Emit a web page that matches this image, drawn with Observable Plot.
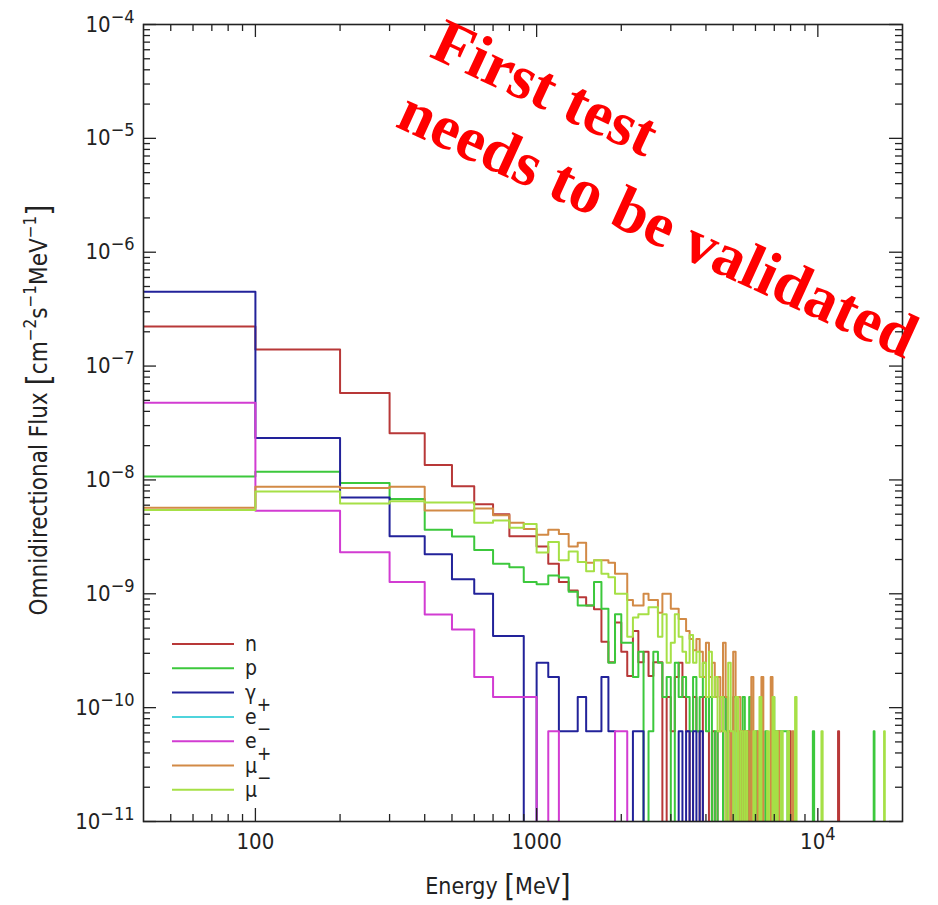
<!DOCTYPE html>
<html><head><meta charset="utf-8">
<script src="https://cdn.jsdelivr.net/npm/d3@7"></script>
<script src="https://cdn.jsdelivr.net/npm/@observablehq/plot@0.6"></script>
<style>
body{margin:0;background:#fff;}
#wrap{position:relative;width:938px;height:905px;overflow:hidden;}
#wrap svg{display:block;}
#overlay{position:absolute;left:0;top:0;pointer-events:none;}
.lbl{font-family:"DejaVu Sans Condensed","Liberation Sans Narrow","Liberation Sans",sans-serif;fill:#222;}
</style></head><body><div id="wrap"></div>
<script>
// ---------- data ----------
const xDomain = [40, 20000];
const yDomain = [1e-11, 1e-4];
const species = ["n", "p", "γ", "e+", "e-", "μ+", "μ-"];
const speciesColors = ["#b83838", "#3cc83c", "#22229a", "#4fd4dc", "#d23cd2", "#d28a46", "#a6e046"];

// bin lower edges (MeV) and flux (cm^-2 s^-1 MeV^-1); unlisted bins are empty
const nE = [40,100,200,300,400,500,600,700,800,900,1000,1100,1200,1300,1400,1500,1600,1700,1800,1900,2000,2100,2200,2300,2400,2500,2600,2700,2900,3000,3100,3200,3300,3400,3600,3700,3900,4000,4200,4400,4500,4600,4800,5300,5600,7900,11800];
const nF = [2.23e-7,1.4e-7,5.8e-8,2.57e-8,1.35e-8,8.8e-9,6.1e-9,5.0e-9,3.2e-9,3.2e-9,2.6e-9,1.84e-9,1.27e-9,1.07e-9,9.3e-10,7.9e-10,7.3e-10,3.8e-10,2.5e-10,5.6e-10,3.1e-10,1.9e-10,4.7e-10,2.5e-10,3.1e-10,1.9e-10,2.5e-10,2.5e-10,1.24e-10,6.2e-11,1.86e-10,2.48e-10,1.24e-10,6.2e-11,1.24e-10,6.2e-11,1.24e-10,1.24e-10,6.2e-11,6.2e-11,1.24e-10,1.24e-10,6.2e-11,6.2e-11,6.2e-11,6.2e-11,6.2e-11];

const pE = [40,100,200,300,400,500,600,700,800,900,1000,1100,1200,1300,1400,1500,1600,1700,1800,1900,2000,2100,2200,2300,2500,2600,2700,2800,2900,3100,3200,3300,3400,3500,3600,3700,3800,3900,4000,4100,4300,4600,4700,5000,5400,5700,6000,6500,6900,7000,7100,7200,7300,7400,7500,7600,7700,9600,15800];
const pF = [1.07e-8,1.18e-8,9.4e-9,6.8e-9,3.65e-9,3.18e-9,2.43e-9,1.84e-9,1.71e-9,1.27e-9,1.21e-9,1.45e-9,1.39e-9,1.04e-9,7.9e-10,7.9e-10,1.27e-9,7.4e-10,2.48e-10,6.6e-10,3.72e-10,3.72e-10,1.86e-10,3.1e-10,6.2e-11,3.1e-10,2.48e-10,1.24e-10,1.86e-10,2.48e-10,1.24e-10,1.86e-10,1.24e-10,6.2e-11,1.86e-10,6.2e-11,1.24e-10,2.48e-10,6.2e-11,1.24e-10,6.2e-11,1.24e-10,6.2e-11,1.24e-10,1.24e-10,1.24e-10,6.2e-11,6.2e-11,1.24e-10,6.2e-11,6.2e-11,6.2e-11,6.2e-11,6.2e-11,6.2e-11,6.2e-11,6.2e-11,6.2e-11,6.2e-11];

const gE = [40,100,200,300,400,500,600,700,800,1000,1100,1200,1300,1400,1500,1600,1700,1800,2200,2300,3200,3400,3600,3800];
const gF = [4.5e-7,2.34e-8,7.0e-9,3.2e-9,2.22e-9,1.34e-9,1.0e-9,4.25e-10,4.25e-10,2.48e-10,1.86e-10,6.2e-11,6.2e-11,1.24e-10,6.2e-11,6.2e-11,1.86e-10,6.2e-11,6.2e-11,6.2e-11,6.2e-11,6.2e-11,6.2e-11,6.2e-11];

const epE = [];
const epF = [];

const emE = [40,100,200,300,400,500,600,700,800,900,1100,1900,2000];
const emF = [4.77e-8,5.37e-9,2.32e-9,1.27e-9,6.58e-10,4.86e-10,1.86e-10,1.24e-10,1.24e-10,1.24e-10,6.2e-11,6.2e-11,6.2e-11];

const mpE = [40,100,200,300,400,500,600,700,800,900,1000,1100,1200,1300,1400,1500,1600,1700,1800,1900,2000,2100,2200,2300,2400,2500,2600,2700,2800,2900,3000,3100,3200,3300,3400,3500,3600,3700,3800,3900,4000,4100,4200,4300,4400,4500,4600,4700,4800,5000,5100,5200,5400,5600,5800,6100,6300,6800,7200,8100];
const mpF = [5.7e-9,8.7e-9,8.5e-9,8.7e-9,5.4e-9,5.4e-9,5.6e-9,4.9e-9,4.2e-9,3.7e-9,3.3e-9,3.65e-9,3.35e-9,2.6e-9,2.8e-9,1.87e-9,1.97e-9,1.97e-9,1.87e-9,1.5e-9,1.5e-9,8.8e-10,7.9e-10,7.9e-10,1.0e-9,8.8e-10,8.8e-10,6.8e-10,1.0e-9,1.0e-9,7.4e-10,7.4e-10,6.0e-10,6.0e-10,4.7e-10,4.0e-10,3.2e-10,4.0e-10,3.1e-10,1.86e-10,3.72e-10,1.86e-10,2.48e-10,1.24e-10,1.86e-10,6.2e-11,3.72e-10,1.24e-10,6.2e-11,3.1e-10,6.2e-11,1.24e-10,6.2e-11,6.2e-11,1.86e-10,6.2e-11,1.86e-10,1.86e-10,6.2e-11,6.2e-11];

const mmE = [40,100,200,300,400,500,600,700,800,900,1000,1100,1200,1300,1400,1500,1600,1700,1800,1900,2000,2100,2200,2300,2400,2500,2600,2700,2800,2900,3000,3100,3200,3300,3400,3500,3600,3700,3800,3900,4000,4100,4200,4300,4400,4500,4600,4800,4900,5100,5300,5500,5900,6200,6600,6900,7100,7400,7800,8300,10300,17200];
const mmF = [5.45e-9,7.9e-9,6.2e-9,6.5e-9,6.35e-9,6.35e-9,4.2e-9,4.4e-9,3.8e-9,4.1e-9,2.3e-9,2.85e-9,1.97e-9,2.35e-9,1.9e-9,1.58e-9,1.97e-9,1.5e-9,1.4e-9,1.0e-9,1.0e-9,4.2e-10,6.2e-10,6.6e-10,6.6e-10,7.6e-10,7.6e-10,4.2e-10,6.6e-10,2.48e-10,3.72e-10,6.6e-10,4.2e-10,3.1e-10,2.48e-10,4.34e-10,2.48e-10,3.1e-10,1.86e-10,2.48e-10,1.24e-10,3.1e-10,1.24e-10,1.86e-10,6.2e-11,1.24e-10,6.2e-11,2.48e-10,6.2e-11,1.24e-10,6.2e-11,6.2e-11,6.2e-11,1.24e-10,6.2e-11,1.24e-10,6.2e-11,6.2e-11,6.2e-11,1.24e-10,6.2e-11,6.2e-11];

const seriesE = [nE, pE, gE, epE, emE, mpE, mmE];
const seriesF = [nF, pF, gF, epF, emF, mpF, mmF];

const xMajorTicks = [100, 1000, 10000];
const xMinorTicks = [50,60,70,80,90,200,300,400,500,600,700,800,900,2000,3000,4000,5000,6000,7000,8000,9000];
const yMajorTicks = [1e-11,1e-10,1e-9,1e-8,1e-7,1e-6,1e-5,1e-4];
const yMinorMantissa = [2,3,4,5,6,7,8,9];

// ---------- build histogram step rows ----------
const binStarts = [40];
for (let e = 100; e < 20000; e += 100) binStarts.push(e);
function histRows(E, F) {
  const m = new Map(E.map((e, i) => [e, F[i]]));
  const rows = binStarts.map(s => ({x: s, y: m.has(s) ? m.get(s) : 0}));
  rows.push({x: xDomain[1], y: rows[rows.length - 1].y});
  rows.forEach(r => { if (!(r.y > 0)) r.y = 1e-13; });
  return rows;
}
const yMinorTicks = [];
yMajorTicks.slice(0, -1).forEach(p => yMinorMantissa.forEach(k => yMinorTicks.push(k * p)));

// ---------- layout ----------
const W = 938, H = 905, mt = 24, mb = 84, ml = 143, mr = 36;
const fw = W - ml - mr, fh = H - mt - mb;
const bigTick = 13, smallTick = 7;
const tickStyle = {stroke: "#222", strokeWidth: 1.3};

const lineMarks = seriesE.map((E, i) =>
  Plot.line(histRows(E, seriesF[i]), {x: "x", y: "y", curve: "step-after", stroke: speciesColors[i], strokeWidth: 2, clip: true}));

const chart = Plot.plot({
  width: W, height: H,
  marginTop: mt, marginBottom: mb, marginLeft: ml, marginRight: mr,
  x: {type: "log", domain: xDomain},
  y: {type: "log", domain: yDomain},
  style: {fontFamily: '"DejaVu Sans Condensed","Liberation Sans Narrow","Liberation Sans",sans-serif', fontSize: "22px", color: "#222", background: "#fff"},
  marks: [
    ...lineMarks,
    Plot.tickX(xMajorTicks, {x: d => d, insetTop: fh - bigTick, ...tickStyle}),
    Plot.tickX(xMinorTicks, {x: d => d, insetTop: fh - smallTick, ...tickStyle}),
    Plot.tickX(xMajorTicks, {x: d => d, insetBottom: fh - bigTick, ...tickStyle}),
    Plot.tickX(xMinorTicks, {x: d => d, insetBottom: fh - smallTick, ...tickStyle}),
    Plot.tickY(yMajorTicks, {y: d => d, insetRight: fw - bigTick, ...tickStyle}),
    Plot.tickY(yMinorTicks, {y: d => d, insetRight: fw - smallTick, ...tickStyle}),
    Plot.tickY(yMajorTicks, {y: d => d, insetLeft: fw - bigTick, ...tickStyle}),
    Plot.tickY(yMinorTicks, {y: d => d, insetLeft: fw - smallTick, ...tickStyle}),
    Plot.frame({stroke: "#222", strokeWidth: 1.6}),
    Plot.axisX({ticks: xMajorTicks, tickSize: 0, tickPadding: 12, label: null,
      tickFormat: d => d >= 10000 ? "10^" + Math.round(Math.log10(d)) : String(d)}),
    Plot.axisY({ticks: yMajorTicks, tickSize: 0, tickPadding: 9, label: null,
      tickFormat: d => "10^" + Math.round(Math.log10(d))})
  ]
});

// superscript tick labels
chart.querySelectorAll("text").forEach(t => {
  const m = /^10\^(-?\d+)$/.exec(t.textContent.trim());
  if (!m) return;
  t.textContent = "10";
  const s = document.createElementNS("http://www.w3.org/2000/svg", "tspan");
  s.setAttribute("dy", "-0.5em");
  s.setAttribute("font-size", "18px");
  s.textContent = m[1].replace("-", "\u2212");
  t.appendChild(s);
});

const wrap = document.getElementById("wrap");
wrap.appendChild(chart);

// ---------- overlay: axis titles, legend, stamp ----------
const ov = d3.select(wrap).append("svg").attr("id", "overlay").attr("width", W).attr("height", H);

const yt = ov.append("text").attr("class", "lbl").attr("font-size", 24)
  .attr("text-anchor", "middle").attr("transform", "translate(47,410) rotate(-90)");
yt.append("tspan").text("Omnidirectional Flux ");
yt.append("tspan").attr("font-size", 32).attr("dy", 2).text("[");
yt.append("tspan").attr("dy", -2).text("cm");
yt.append("tspan").attr("font-size", 17).attr("dy", -11).text("\u22122");
yt.append("tspan").attr("dy", 11).text("s");
yt.append("tspan").attr("font-size", 17).attr("dy", -11).text("\u22121");
yt.append("tspan").attr("dy", 11).text("MeV");
yt.append("tspan").attr("font-size", 17).attr("dy", -11).text("\u22121");
yt.append("tspan").attr("font-size", 32).attr("dy", 13).text("]");

const xt = ov.append("text").attr("class", "lbl").attr("font-size", 23)
  .attr("text-anchor", "middle").attr("x", 498).attr("y", 894);
xt.append("tspan").text("Energy ");
xt.append("tspan").attr("font-size", 31).attr("dy", 2).text("[");
xt.append("tspan").attr("dy", -2).text("MeV");
xt.append("tspan").attr("font-size", 31).attr("dy", 2).text("]");

const legendLabels = [["n",""],["p",""],["\u03b3",""],["e","+"],["e","\u2212"],["\u03bc","+"],["\u03bc","\u2212"]];
legendLabels.forEach(([base, sup], i) => {
  const y = 644 + i * 24.3;
  ov.append("line").attr("x1", 172).attr("x2", 234).attr("y1", y).attr("y2", y)
    .attr("stroke", speciesColors[i]).attr("stroke-width", 2);
  const t = ov.append("text").attr("class", "lbl").attr("font-size", 21).attr("x", 245).attr("y", y + 7);
  t.append("tspan").text(base);
  if (sup) t.append("tspan").attr("font-size", 19).attr("dy", -13).text(sup);
});

const stamp = ov.append("g").attr("font-family", '"Liberation Serif","DejaVu Serif",serif')
  .attr("font-weight", "bold").attr("font-size", 63).attr("fill", "#ff0000");
stamp.append("text").attr("transform", "translate(428,56) rotate(25)").text("First test");
stamp.append("text").attr("transform", "translate(394,126) rotate(24.5)").text("needs to be validated");
</script>
</body></html>
